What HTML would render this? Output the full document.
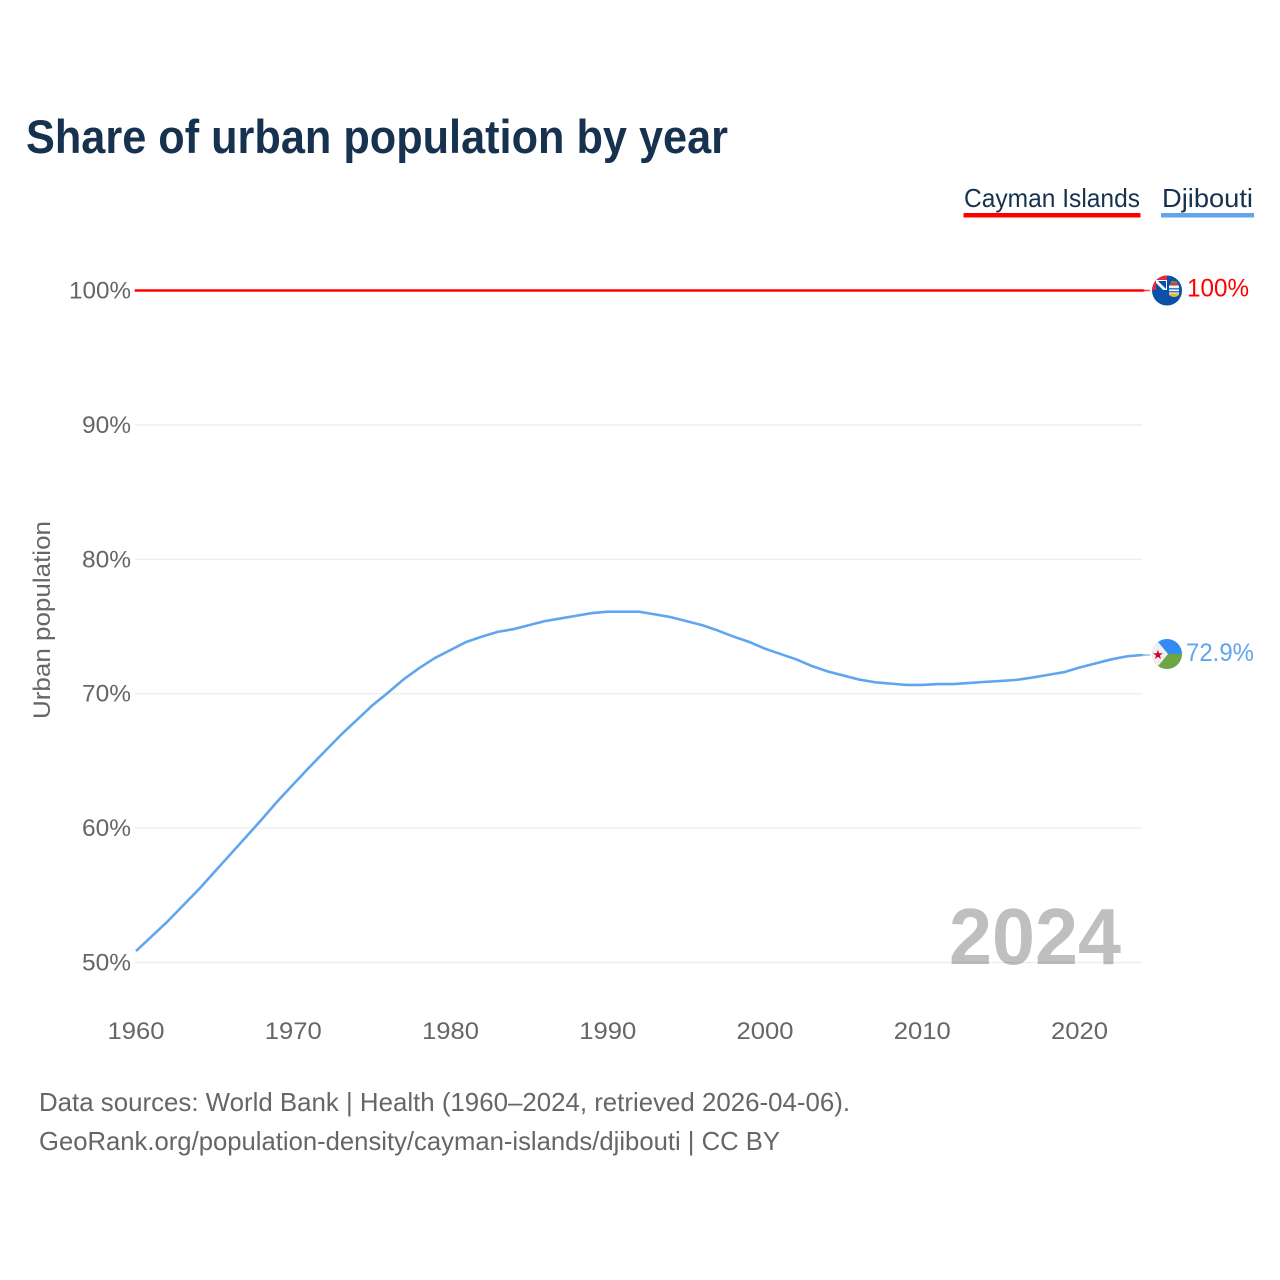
<!DOCTYPE html>
<html lang="en">
<head>
<meta charset="utf-8">
<title>Share of urban population by year</title>
<style>
html,body{margin:0;padding:0;background:#fff;}
svg{display:block;font-family:"Liberation Sans",sans-serif;}
</style>
</head>
<body>
<svg id="chart" xmlns="http://www.w3.org/2000/svg" width="1280" height="1280" viewBox="0 0 1280 1280">
  <defs>
    <clipPath id="clip-ky"><circle cx="1167" cy="290.5" r="15"></circle></clipPath>
    <clipPath id="clip-dj"><circle cx="1167" cy="654" r="15"></circle></clipPath>
    <linearGradient id="fade-red" x1="0" x2="1" y1="0" y2="0"><stop offset="0" stop-color="#ff0000"></stop><stop offset="1" stop-color="#ff0000" stop-opacity="0.55"></stop></linearGradient>
    <linearGradient id="fade-blue" x1="0" x2="1" y1="0" y2="0"><stop offset="0" stop-color="#60a5ee"></stop><stop offset="1" stop-color="#60a5ee" stop-opacity="0.55"></stop></linearGradient>
  </defs>
  <rect width="1280" height="1280" fill="#fff"></rect>
  <text x="26" y="153" font-size="47" font-weight="700" fill="#17324f" textLength="702" lengthAdjust="spacingAndGlyphs">Share of urban population by year</text>

  <g>
    <g>
      <text x="964" y="207" font-size="26" fill="#17324f" textLength="176" lengthAdjust="spacingAndGlyphs">Cayman Islands</text>
      <rect x="963.5" y="213" width="177" height="4.5" fill="#ff0000"></rect>
    </g>
    <g>
      <text x="1162" y="207" font-size="26" fill="#17324f" textLength="91" lengthAdjust="spacingAndGlyphs">Djibouti</text>
      <rect x="1161" y="213" width="93" height="4.5" fill="#60a5ee"></rect>
    </g>
  </g>

  <g id="grid"></g>
  <g id="y-ticks"></g>
  <g id="x-ticks"></g>
  <text transform="translate(50,620) rotate(-90)" text-anchor="middle" font-size="24" fill="#666" textLength="198" lengthAdjust="spacingAndGlyphs">Urban population</text>

  <text x="949" y="964" font-size="80" font-weight="700" fill="#000" fill-opacity="0.25" textLength="172" lengthAdjust="spacingAndGlyphs">2024</text>

  <g id="series"></g>

  <g clip-path="url(#clip-ky)">
    <rect x="1150" y="274" width="34" height="34" fill="#0a50a8"></rect>
    <rect x="1152" y="275" width="15" height="15" fill="#e8283c"></rect>
    <rect x="1156" y="280" width="11" height="10" fill="#fff"></rect>
    <path d="M1158 281 L1166 289 L1166 281 Z" fill="#0a50a8"></path>
    <path d="M1156 283 L1156 290 L1163 290 Z" fill="#0a50a8"></path>
    <rect x="1171" y="281" width="6" height="2" fill="#4d9a4a"></rect>
    <rect x="1170" y="283" width="8" height="2.5" fill="#d23a44"></rect>
    <rect x="1169" y="285.5" width="10" height="8" fill="#eef3f6"></rect>
    <rect x="1169" y="288" width="10" height="1.5" fill="#3f7cc4"></rect>
    <rect x="1169" y="291" width="10" height="1.5" fill="#3f7cc4"></rect>
    <path d="M1169 293.5 L1179 293.5 L1179 295 Q1174 299 1169 295 Z" fill="#e8b73a"></path>
  </g>
  <g clip-path="url(#clip-dj)">
    <rect x="1150" y="637" width="34" height="17" fill="#338af3"></rect>
    <rect x="1150" y="654" width="34" height="17" fill="#6da544"></rect>
    <path d="M1150 637 L1154 637 L1168 654 L1154 671 L1150 671 Z" fill="#f0f0f0"></path>
    <text x="1158" y="659" font-size="13" text-anchor="middle" fill="#d80027">★</text>
  </g>

  <g id="value-labels"></g>

  <text x="39" y="1111" font-size="26" fill="#666" textLength="811" lengthAdjust="spacingAndGlyphs">Data sources: World Bank | Health (1960–2024, retrieved 2026-04-06).</text>
  <text x="39" y="1150" font-size="26" fill="#666" textLength="741" lengthAdjust="spacingAndGlyphs">GeoRank.org/population-density/cayman-islands/djibouti | CC BY</text>
</svg>
<script>
const years = [1960,1961,1962,1963,1964,1965,1966,1967,1968,1969,1970,1971,1972,1973,1974,1975,1976,1977,1978,1979,1980,1981,1982,1983,1984,1985,1986,1987,1988,1989,1990,1991,1992,1993,1994,1995,1996,1997,1998,1999,2000,2001,2002,2003,2004,2005,2006,2007,2008,2009,2010,2011,2012,2013,2014,2015,2016,2017,2018,2019,2020,2021,2022,2023,2024];
const djibouti = [50.85,51.95,53.05,54.25,55.45,56.75,58.05,59.35,60.65,62.0,63.25,64.5,65.7,66.9,68.0,69.1,70.05,71.05,71.9,72.65,73.25,73.85,74.25,74.6,74.8,75.1,75.4,75.6,75.8,76.0,76.1,76.1,76.1,75.9,75.7,75.4,75.1,74.7,74.25,73.85,73.35,72.95,72.55,72.05,71.65,71.35,71.05,70.85,70.75,70.65,70.65,70.72,70.72,70.8,70.88,70.95,71.03,71.2,71.4,71.6,71.95,72.25,72.55,72.78,72.88];
const cayman = [100,100,100,100,100,100,100,100,100,100,100,100,100,100,100,100,100,100,100,100,100,100,100,100,100,100,100,100,100,100,100,100,100,100,100,100,100,100,100,100,100,100,100,100,100,100,100,100,100,100,100,100,100,100,100,100,100,100,100,100,100,100,100,100,100];
const yTicks = [50,60,70,80,90,100];
const xTicks = [1960,1970,1980,1990,2000,2010,2020];
const endLabels = ['100%','72.9%'];

const NS = 'http://www.w3.org/2000/svg';
const xScale = function (year) { return 136 + (year - 1960) * (1142.4 - 136) / 64; };
const yScale = function (pct) { return 962.5 - (pct - 50) * (962.5 - 290.5) / 50; };
const make = function (tag, parent) {
  const el = document.createElementNS(NS, tag);
  document.getElementById(parent).appendChild(el);
  return el;
};

yTicks.forEach(function (t) {
  const line = make('line', 'grid');
  
  
  line.setAttribute('x1', xScale(1960) - 1);
  line.setAttribute('x2', xScale(2024));
  line.setAttribute('y1', yScale(t));
  line.setAttribute('y2', yScale(t));
  line.setAttribute('stroke', '#ececec');
  line.setAttribute('stroke-width', '1.2');

  const label = make('text', 'y-ticks');
  
  
  label.setAttribute('x', 131);
  label.setAttribute('y', yScale(t) + 8);
  label.setAttribute('text-anchor', 'end');
  label.setAttribute('font-size', '24');
  label.setAttribute('fill', '#666');
  label.setAttribute('textLength', String(t).length === 3 ? '62' : '49');
  label.setAttribute('lengthAdjust', 'spacingAndGlyphs');
  label.textContent = t + '%';
});

xTicks.forEach(function (t) {
  const label = make('text', 'x-ticks');
  
  
  label.setAttribute('x', xScale(t));
  label.setAttribute('y', 1039);
  label.setAttribute('text-anchor', 'middle');
  label.setAttribute('font-size', '24');
  label.setAttribute('fill', '#666');
  label.setAttribute('textLength', '57');
  label.setAttribute('lengthAdjust', 'spacingAndGlyphs');
  label.textContent = t;
});

const pathFor = function (values) {
  return values.map(function (v, i) {
    return (i ? 'L' : 'M') + xScale(years[i]).toFixed(2) + ' ' + yScale(v).toFixed(2);
  }).join(' ');
};

const djLine = make('path', 'series');


djLine.setAttribute('d', pathFor(djibouti));
djLine.setAttribute('fill', 'none');
djLine.setAttribute('stroke', '#60a5ee');
djLine.setAttribute('stroke-width', '2.6');
djLine.setAttribute('stroke-linejoin', 'round');

const kyLine = make('path', 'series');


kyLine.setAttribute('d', pathFor(cayman));
kyLine.setAttribute('fill', 'none');
kyLine.setAttribute('stroke', '#ff0000');
kyLine.setAttribute('stroke-width', '2.6');
kyLine.setAttribute('stroke-linecap', 'square');

const lastIndex = years.length - 1;

const kyTail = make('rect', 'series');


kyTail.setAttribute('x', xScale(years[lastIndex]));
kyTail.setAttribute('y', yScale(cayman[lastIndex]) - 0.75);
kyTail.setAttribute('width', 8);
kyTail.setAttribute('height', 1.5);
kyTail.setAttribute('fill', 'url(#fade-red)');

const djTail = make('rect', 'series');


djTail.setAttribute('x', xScale(years[lastIndex]));
djTail.setAttribute('y', yScale(djibouti[lastIndex]) - 0.75);
djTail.setAttribute('width', 8);
djTail.setAttribute('height', 1.5);
djTail.setAttribute('fill', 'url(#fade-blue)');

const kyValue = make('text', 'value-labels');


kyValue.setAttribute('x', 1187);
kyValue.setAttribute('y', yScale(cayman[lastIndex]) + 6);
kyValue.setAttribute('font-size', '25');
kyValue.setAttribute('fill', '#ff0000');
kyValue.setAttribute('textLength', '62');
kyValue.setAttribute('lengthAdjust', 'spacingAndGlyphs');
kyValue.textContent = endLabels[0];

const djValue = make('text', 'value-labels');


djValue.setAttribute('x', 1186);
djValue.setAttribute('y', yScale(djibouti[lastIndex]) + 6);
djValue.setAttribute('font-size', '25');
djValue.setAttribute('fill', '#60a5ee');
djValue.setAttribute('textLength', '68');
djValue.setAttribute('lengthAdjust', 'spacingAndGlyphs');
djValue.textContent = endLabels[1];
</script>
</body>
</html>
